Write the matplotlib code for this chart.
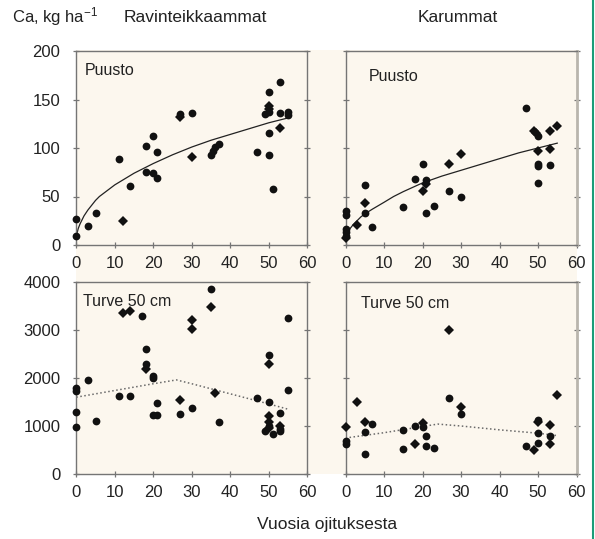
import matplotlib
matplotlib.use('Agg')
import matplotlib.pyplot as plt
from matplotlib.patches import Rectangle
from matplotlib.lines import Line2D

plt.rcParams['font.family'] = ['Liberation Sans', 'DejaVu Sans']
plt.rcParams['mathtext.default'] = 'regular'

# Ravinteikkaammat, puusto (circles / diamonds)
rp_cx = [0, 0, 3, 5, 11, 14, 18, 18, 20, 20, 21, 21, 27, 30, 35, 35.5, 36, 37, 47, 49, 50, 50, 50, 50, 51, 53, 53, 55, 55]
rp_cy = [27, 9, 20, 33, 89, 61, 102, 75, 112, 74, 69, 96, 135, 136, 93, 97, 101, 104, 96, 135, 158, 137, 115, 93, 58, 168, 136, 137, 134]
rp_dx = [12, 27, 30, 50, 50, 53]
rp_dy = [25, 132, 91, 143, 140, 121]
rp_fit_x = [0, 0.25, 0.5, 1, 1.5, 2, 3, 4, 5, 6, 8, 10, 12.5, 15, 20, 25, 30, 35, 40, 45, 50, 55]
rp_fit_y = [8, 13, 17, 22, 26, 30, 36, 41, 46, 50, 56, 62, 68, 74, 84, 93, 101, 108, 114, 120, 126, 131]

# Karummat, puusto
kp_cx = [0, 0, 0, 0, 0, 5, 5, 7, 15, 18, 20, 21, 21, 23, 27, 30, 47, 50, 50, 50, 50, 53]
kp_cy = [35, 31, 17, 13, 9, 62, 33, 19, 39, 68, 83, 67, 33, 40, 56, 49, 141, 112, 84, 81, 64, 82]
kp_dx = [0, 3, 5, 20, 21, 27, 30, 49, 49.5, 50, 53, 53, 55]
kp_dy = [7, 21, 43, 56, 63, 84, 94, 118, 115, 97, 118, 99, 123]
kp_fit_x = [0, 0.5, 1, 2, 3, 4, 5, 7, 10, 12.5, 15, 20, 25, 30, 35, 40, 45, 50, 55]
kp_fit_y = [12, 14, 16, 21, 25, 29, 32, 37, 44, 50, 55, 64, 71, 77, 83, 89, 95, 100, 105]

# Ravinteikkaammat, turve 50 cm
rt_cx = [0, 0, 0, 0, 3, 5, 11, 14, 17, 18, 18, 20, 20, 20, 21, 21, 27, 30, 35, 37, 47, 49, 50, 50, 50, 51, 53, 53, 53, 55, 55]
rt_cy = [1800, 1720, 1300, 970, 1950, 1110, 1620, 1620, 3300, 2600, 2290, 2050, 1990, 1220, 1220, 1480, 1250, 1380, 3860, 1080, 1590, 900, 2470, 1490, 1010, 840, 1280, 940, 890, 3250, 1750]
rt_dx = [12, 14, 18, 27, 30, 30, 35, 36, 50, 50, 50, 50, 53]
rt_dy = [3350, 3400, 2190, 1540, 3210, 3030, 3480, 1690, 2300, 1210, 1080, 960, 1010]
rt_trend_x = [0, 10, 20, 26, 30, 40, 50, 55]
rt_trend_y = [1600, 1740, 1880, 1960, 1880, 1670, 1460, 1350]

# Karummat, turve 50 cm
kt_cx = [0, 0, 5, 5, 7, 15, 15, 18, 20, 21, 21, 23, 27, 30, 47, 50, 50, 50, 53]
kt_cy = [690, 620, 870, 420, 1050, 910, 530, 990, 980, 790, 580, 540, 1580, 1240, 590, 1120, 850, 650, 790]
kt_dx = [0, 3, 5, 18, 20, 27, 30, 49, 50, 53, 53, 55]
kt_dy = [980, 1510, 1080, 630, 1060, 2990, 1390, 510, 1080, 1030, 630, 1640]
kt_trend_x = [0, 10, 20, 24, 30, 40, 50, 55]
kt_trend_y = [750, 860, 990, 1040, 1000, 920, 850, 800]

W, H = 595, 539
fig = plt.figure(figsize=(W / 100, H / 100), dpi=100)

beige = '#fcf7ee'
spine = '#757575'
fig.add_artist(Rectangle((76 / W, 1 - 474 / H), (577 - 76) / W, (474 - 50) / H,
                         transform=fig.transFigure, facecolor=beige,
                         edgecolor='none', zorder=0))
fig.add_artist(Line2D([593 / W, 593 / W], [0, 1], transform=fig.transFigure,
                      color='#1c9c78', lw=1.5))


def panel(left, bottom, width, height):
    return fig.add_axes([left / W, 1 - bottom / H, width / W, height / H])


axes = [
    panel(76.3, 245, 231, 194),
    panel(345.5, 245, 231, 194),
    panel(76.3, 474, 231, 192),
    panel(345.5, 474, 231, 192),
]

panels = [
    (rp_cx, rp_cy, rp_dx, rp_dy, rp_fit_x, rp_fit_y, '-', 'Puusto'),
    (kp_cx, kp_cy, kp_dx, kp_dy, kp_fit_x, kp_fit_y, '-', 'Puusto'),
    (rt_cx, rt_cy, rt_dx, rt_dy, rt_trend_x, rt_trend_y, ':', 'Turve 50 cm'),
    (kt_cx, kt_cy, kt_dx, kt_dy, kt_trend_x, kt_trend_y, ':', 'Turve 50 cm'),
]
label_pos = [(0.038, 0.897), (0.10, 0.87), (0.029, 0.90), (0.068, 0.89)]

for i, ax in enumerate(axes):
    cx, cy, dx, dy, lx, ly, ls, name = panels[i]
    ax.set_facecolor('none')
    if ls == '-':
        ax.plot(lx, ly, color='#222222', lw=0.9, zorder=2)
    else:
        ax.plot(lx, ly, color='#6a6a6a', lw=1.1, ls=':', zorder=2)
    ax.plot(cx, cy, 'o', color='#111111', ms=5.6, mew=0, clip_on=False, zorder=3)
    ax.plot(dx, dy, 'D', color='#111111', ms=4.8, mew=0, clip_on=False, zorder=3)

    ax.set_xlim(0, 60)
    ax.set_xticks(range(0, 61, 10))
    if i < 2:
        ax.set_ylim(0, 200)
        ax.set_yticks(range(0, 201, 50))
    else:
        ax.set_ylim(0, 4000)
        ax.set_yticks(range(0, 4001, 1000))

    for s in ax.spines.values():
        s.set_color(spine)
        s.set_linewidth(1.0)
    if i % 2 == 1:
        ax.spines['right'].set_color('#b9b5ad')
        ax.spines['right'].set_linewidth(2.0)

    ax.tick_params(axis='both', direction='inout', length=5, width=0.9,
                   color=spine, labelsize=12, labelcolor='#222222')
    ax.tick_params(axis='y', right=True, pad=9, labelleft=(i % 2 == 0))
    ax.tick_params(axis='x', pad=5.5)

    tx, ty = label_pos[i]
    ax.text(tx, ty, name, transform=ax.transAxes, fontsize=11.5,
            va='center', ha='left', color='#222222')

fig.text(12 / W, 1 - 17 / H, 'Ca, kg ha$^{-1}$', fontsize=12, va='center',
         ha='left', color='#222222')
fig.text(195 / W, 1 - 17 / H, 'Ravinteikkaammat', fontsize=12.5, va='center',
         ha='center', color='#222222')
fig.text(458 / W, 1 - 17 / H, 'Karummat', fontsize=12.5, va='center',
         ha='center', color='#222222')
fig.text(327 / W, 1 - 525 / H, 'Vuosia ojituksesta', fontsize=12.5,
         va='center', ha='center', color='#222222')

fig.savefig('out.png', dpi=100)
